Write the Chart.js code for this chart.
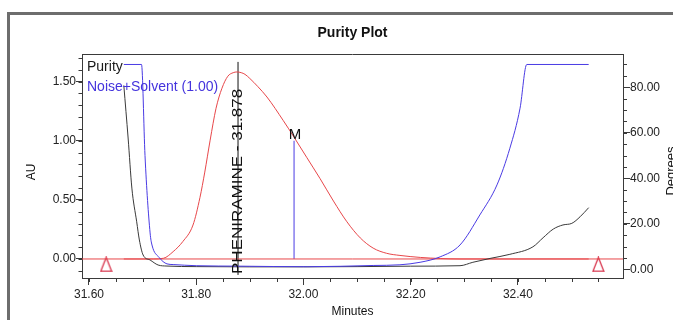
<!DOCTYPE html>
<html>
<head>
<meta charset="utf-8">
<title>Purity Plot</title>
<script src="https://cdn.jsdelivr.net/npm/chart.js@4.4.0/dist/chart.umd.min.js"></script>
<style>
  html, body { margin: 0; padding: 0; background: #fff; overflow: hidden; }
</style>
</head>
<body>
<canvas id="purityChart" width="673" height="320"></canvas>
<script>
// axis ranges
const xMin = 31.587, xMax = 32.596;
const auMin = -0.161, auMax = 1.734;
const degMin = -3.8, degMax = 94.6;

// labelled ticks
const timeTicks = [31.60, 31.80, 32.00, 32.20, 32.40];
const auTicks = [0.00, 0.50, 1.00, 1.50];
const degTicks = [0, 20, 40, 60, 80];

// chromatogram (AU)
const chromTime = [31.665, 31.72, 31.739, 31.757, 31.775, 31.794, 31.807, 31.816, 31.826, 31.837, 31.848, 31.859, 31.869, 31.876,
  31.884, 31.891, 31.900, 31.915, 31.932, 31.9625, 31.9825, 32.006, 32.031, 32.056, 32.081, 32.106, 32.130, 32.155, 32.180, 32.218, 32.255, 32.292, 32.532];
const chromAU = [0, 0, 0.006, 0.062, 0.147, 0.287, 0.52, 0.735, 1.005, 1.275, 1.444, 1.546, 1.576, 1.582,
  1.576, 1.562, 1.527, 1.458, 1.37, 1.17, 1.03, 0.86, 0.68, 0.49, 0.315, 0.178, 0.092, 0.048, 0.030, 0.013, 0.004, 0, 0];

// purity angle (degrees)
const purityTime = [31.665, 31.673, 31.680, 31.689, 31.694, 31.701, 31.714, 31.729, 31.7455, 31.80, 31.90, 32.00, 32.10, 32.20,
  32.292, 32.316, 32.348, 32.385, 32.428, 32.447, 32.466, 32.484, 32.5005, 32.516, 32.532];
const purityDeg = [80.8, 57.7, 35.7, 20.9, 12.9, 6.3, 4.1, 1.9, 1.45, 1.2, 1.1, 1.1, 1.2, 1.4,
  1.6, 3.1, 4.8, 6.6, 9.9, 13.9, 17.7, 19.5, 20.2, 23.1, 27.1];

// noise + solvent threshold (degrees)
const thresholdTime = [31.665, 31.698, 31.7045, 31.714, 31.7175, 31.731, 31.7455, 31.757, 31.80, 31.882, 32.007, 32.13, 32.18,
  32.2175, 32.255, 32.292, 32.329, 32.361, 32.385, 32.404, 32.4165, 32.532];
const thresholdDeg = [90, 90, 50, 16, 10.7, 5.2, 2.4, 2.1, 1.6, 1.4, 1.15, 1.7, 2.0,
  3.1, 5.5, 10.7, 23.9, 37.1, 53.2, 70.8, 90, 90];

// peak, match line and integration marks
const peakName = 'PHENIRAMINE';
const peakTime = 31.878;
const peakLine = [-0.135, 1.667];
const matchTime = 31.9825;
const matchLine = [0, 1.0];
const eventTimes = [31.632, 32.550];
const markerLevel = -0.046;

const axisColor = '#3a3a3a';
const red = '#e8474a';
const blue = '#4a3be4';
const fontFamily = "'Liberation Sans', Arial, sans-serif";

Chart.defaults.font.family = fontFamily;
Chart.defaults.font.size = 12;
Chart.defaults.color = '#222';

const pts = (xs, ys) => xs.map((x, i) => ({ x: x, y: ys[i] }));

// open triangle used for the baseline start/end marks
const tri = document.createElement('canvas');
tri.width = 13; tri.height = 16;
const tctx = tri.getContext('2d');
tctx.strokeStyle = '#d8344c';
tctx.lineWidth = 1.3;
tctx.beginPath();
tctx.moveTo(6.5, 1); tctx.lineTo(12, 15); tctx.lineTo(1, 15); tctx.closePath();
tctx.stroke();

function steps(min, max, step) {
  const out = [];
  for (let i = Math.ceil(min / step - 1e-9); i * step <= max + 1e-9; i++) out.push(i * step);
  return out;
}

// frame, minor ticks, titles and annotations
const decorations = {
  id: 'decorations',
  beforeDraw(chart) {
    const ctx = chart.ctx;
    ctx.save();
    ctx.fillStyle = '#fff';
    ctx.fillRect(0, 0, chart.width, chart.height);
    ctx.strokeStyle = '#6d6d6d';
    ctx.lineWidth = 3;
    ctx.strokeRect(8.5, 13.5, chart.width + 20, chart.height + 20);
    ctx.restore();
  },
  afterDraw(chart) {
    const { ctx, chartArea: a, scales } = chart;
    ctx.save();

    // top edge of plot box
    ctx.strokeStyle = axisColor;
    ctx.lineWidth = 1;
    ctx.beginPath();
    ctx.moveTo(a.left, a.top + 0.5);
    ctx.lineTo(a.right, a.top + 0.5);

    // minor ticks
    steps(xMin, xMax, 0.05).forEach(v => {
      const px = Math.round(scales.x.getPixelForValue(v)) + 0.5;
      ctx.moveTo(px, a.bottom); ctx.lineTo(px, a.bottom + 4);
    });
    steps(auMin, auMax, 0.1).forEach(v => {
      const py = Math.round(scales.y.getPixelForValue(v)) + 0.5;
      ctx.moveTo(a.left, py); ctx.lineTo(a.left - 3.5, py);
    });
    steps(0, degMax, 5).forEach(v => {
      const py = Math.round(scales.y1.getPixelForValue(v)) + 0.5;
      ctx.moveTo(a.right, py); ctx.lineTo(a.right + 4, py);
    });
    ctx.stroke();

    const cx = (a.left + a.right) / 2;
    ctx.fillStyle = '#111';
    ctx.textAlign = 'center';
    ctx.textBaseline = 'middle';
    ctx.font = 'bold 14px ' + fontFamily;
    ctx.fillText('Purity Plot', cx, 33);
    ctx.font = '12px ' + fontFamily;
    ctx.fillText('Minutes', cx, 312);

    ctx.save();
    ctx.translate(31.5, (a.top + a.bottom) / 2 + 6);
    ctx.rotate(-Math.PI / 2);
    ctx.fillText('AU', 0, 0);
    ctx.restore();

    ctx.save();
    ctx.font = '13px ' + fontFamily;
    ctx.translate(671, (a.top + a.bottom) / 2 + 5);
    ctx.rotate(-Math.PI / 2);
    ctx.fillText('Degrees', 0, 0);
    ctx.restore();

    // legend
    ctx.textAlign = 'left';
    ctx.textBaseline = 'alphabetic';
    ctx.font = '14px ' + fontFamily;
    ctx.fillStyle = '#1a1a1a';
    ctx.fillText('Purity', a.left + 5, 71);
    ctx.fillStyle = '#4433dd';
    ctx.fillText('Noise+Solvent (1.00)', a.left + 5, 91);

    // peak label
    ctx.save();
    ctx.fillStyle = '#111';
    ctx.font = '17px ' + fontFamily;
    ctx.translate(scales.x.getPixelForValue(peakTime), scales.y.getPixelForValue(-0.127));
    ctx.scale(0.85, 1);
    ctx.rotate(-Math.PI / 2);
    ctx.textBaseline = 'middle';
    ctx.fillText(peakName + ' - ' + peakTime.toFixed(3), 0, 0);
    ctx.restore();

    // match marker label
    ctx.fillStyle = '#111';
    ctx.font = '15px ' + fontFamily;
    ctx.textAlign = 'center';
    ctx.fillText('M', scales.x.getPixelForValue(matchTime) + 1, scales.y.getPixelForValue(matchLine[1]) - 2);

    ctx.restore();
  }
};

const ctx = document.getElementById('purityChart').getContext('2d');

const purityChart = new Chart(ctx, {
  type: 'line',
  data: {
    datasets: [{
      label: 'Noise+Solvent (1.00)',
      data: pts(thresholdTime, thresholdDeg),
      yAxisID: 'y1',
      borderColor: blue,
      borderWidth: 1,
      pointRadius: 0,
      cubicInterpolationMode: 'monotone'
    }, {
      label: 'Purity',
      data: pts(purityTime, purityDeg),
      yAxisID: 'y1',
      borderColor: '#3a3a3a',
      borderWidth: 1,
      pointRadius: 0,
      cubicInterpolationMode: 'monotone'
    }, {
      label: 'Chromatogram',
      data: pts(chromTime, chromAU),
      yAxisID: 'y',
      borderColor: red,
      borderWidth: 1,
      pointRadius: 0,
      cubicInterpolationMode: 'monotone'
    }, {
      label: 'Baseline',
      data: pts([xMin, xMax], [0, 0]),
      yAxisID: 'y',
      borderColor: red,
      borderWidth: 1,
      pointRadius: 0
    }, {
      label: 'M',
      data: pts([matchTime, matchTime], matchLine),
      yAxisID: 'y',
      borderColor: blue,
      borderWidth: 1,
      pointRadius: 0
    }, {
      label: peakName,
      data: pts([peakTime, peakTime], peakLine),
      yAxisID: 'y',
      borderColor: '#111',
      borderWidth: 1,
      pointRadius: 0
    }, {
      label: 'Events',
      data: eventTimes.map(t => ({ x: t, y: markerLevel })),
      yAxisID: 'y',
      showLine: false,
      pointStyle: tri,
      pointRadius: 7
    }]
  },
  options: {
    responsive: false,
    devicePixelRatio: 1,
    animation: false,
    layout: { padding: { top: 54, left: 0, right: 0, bottom: 0 } },
    plugins: {
      legend: { display: false },
      tooltip: { enabled: false }
    },
    scales: {
      x: {
        type: 'linear',
        min: xMin,
        max: xMax,
        afterBuildTicks: s => { s.ticks = timeTicks.map(v => ({ value: v })); },
        afterFit: s => { s.height = 42; },
        ticks: { callback: v => v.toFixed(2), padding: 2, maxRotation: 0, autoSkip: false },
        grid: { drawOnChartArea: false, tickLength: 7, tickColor: axisColor },
        border: { color: axisColor }
      },
      y: {
        position: 'left',
        min: auMin,
        max: auMax,
        afterBuildTicks: s => { s.ticks = auTicks.map(v => ({ value: v })); },
        afterFit: s => { s.width = 82; },
        ticks: { callback: v => v.toFixed(2), padding: 0 },
        grid: { drawOnChartArea: false, tickLength: 6, tickColor: axisColor },
        border: { color: axisColor }
      },
      y1: {
        position: 'right',
        min: degMin,
        max: degMax,
        afterBuildTicks: s => { s.ticks = degTicks.map(v => ({ value: v })); },
        afterFit: s => { s.width = 50; },
        ticks: { callback: v => v.toFixed(2), padding: 0 },
        grid: { drawOnChartArea: false, tickLength: 7, tickColor: axisColor },
        border: { color: axisColor }
      }
    }
  },
  plugins: [decorations]
});
</script>
</body>
</html>
